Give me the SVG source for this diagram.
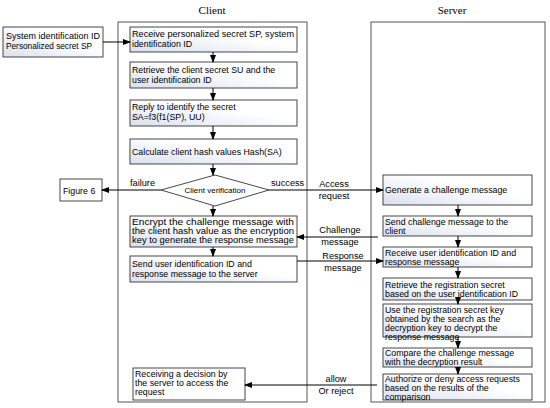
<svg xmlns="http://www.w3.org/2000/svg" width="550" height="408" viewBox="0 0 550 408">
<style>
.c{fill:none;stroke:#555;stroke-width:1}
.b{fill:url(#g);stroke:#333;stroke-width:0.9}
.t{font-family:"Liberation Sans",Arial,sans-serif;font-size:8.8px;fill:#000}
.h{font-family:"Liberation Serif","Times New Roman",serif;font-size:11px;fill:#000}
.l{font-family:"Liberation Sans",Arial,sans-serif;font-size:9.2px;fill:#000}
.a{stroke:#000;stroke-width:1;fill:none;marker-end:url(#m)}
</style>
<defs>
<linearGradient id="g" x1="0" y1="1" x2="1" y2="0">
<stop offset="0" stop-color="#d9e0ee"/>
<stop offset="0.6" stop-color="#ffffff"/>
</linearGradient>
<marker id="m" markerWidth="8" markerHeight="6" refX="7" refY="3" orient="auto" markerUnits="userSpaceOnUse">
<path d="M0,0 L8,3 L0,6 z" fill="#000"/>
</marker>
</defs>
<rect width="550" height="408" fill="#fff"/>
<g id="client-lane">
<text class="h" x="212" y="14" text-anchor="middle">Client</text>
<rect class="c" x="118" y="22" width="189" height="380"/>
</g>
<g id="server-lane">
<text class="h" x="452" y="14" text-anchor="middle">Server</text>
<rect class="c" x="371" y="22" width="174" height="380"/>
</g>
<g id="input"><rect class="b" x="3" y="27" width="100" height="30"/>
<text class="t" x="6" y="39" textLength="94" lengthAdjust="spacingAndGlyphs">System identification ID</text><text class="t" x="6" y="49" textLength="86" lengthAdjust="spacingAndGlyphs">Personalized secret SP</text></g>
<g id="c1"><rect class="b" x="130" y="27" width="167" height="25"/>
<text class="t" x="132" y="37" textLength="162" lengthAdjust="spacingAndGlyphs">Receive personalized secret SP, system</text><text class="t" x="132" y="47">identification ID</text></g>
<g id="c2"><rect class="b" x="130" y="62" width="167" height="26"/>
<text class="t" x="132" y="73">Retrieve the client secret SU and the</text><text class="t" x="132" y="83">user identification ID</text></g>
<g id="c3"><rect class="b" x="130" y="100" width="167" height="26"/>
<text class="t" x="132" y="110">Reply to identify the secret</text><text class="t" x="132" y="120">SA=f3(f1(SP), UU)</text></g>
<g id="c4"><rect class="b" x="130" y="139" width="167" height="25"/>
<text class="t" x="132" y="155">Calculate client hash values Hash(SA)</text></g>
<g id="diamond"><path class="b" d="M215,175 L269,190 L215,206 L161,190 Z" style="fill:#fff"/>
<text class="t" x="215" y="193" text-anchor="middle" style="font-size:8px">Client verification</text></g>
<g id="fig6"><rect class="b" x="60" y="179" width="42" height="22" style="fill:#fff"/>
<text class="t" x="63" y="194">Figure 6</text></g>
<g id="c5"><rect class="b" x="130" y="216" width="167" height="31"/>
<text class="t" x="132" y="225" textLength="162" lengthAdjust="spacingAndGlyphs">Encrypt the challenge message with</text><text class="t" x="132" y="234" textLength="162" lengthAdjust="spacingAndGlyphs">the client hash value as the encryption</text><text class="t" x="132" y="243" textLength="162" lengthAdjust="spacingAndGlyphs">key to generate the response message</text></g>
<g id="c6"><rect class="b" x="130" y="256" width="167" height="26"/>
<text class="t" x="132" y="267">Send user identification ID and</text><text class="t" x="132" y="277">response message to the server</text></g>
<g id="c7"><rect class="b" x="133" y="368" width="112" height="32" style="fill:#fff"/>
<text class="t" x="135" y="377">Receiving a decision by</text><text class="t" x="135" y="386">the server to access the</text><text class="t" x="135" y="395">request</text></g>
<g id="s1"><rect class="b" x="383" y="175" width="149" height="30"/>
<text class="t" x="385" y="193">Generate a challenge message</text></g>
<g id="s2"><rect class="b" x="383" y="216" width="149" height="20"/>
<text class="t" x="385" y="225">Send challenge message to the</text><text class="t" x="385" y="234">client</text></g>
<g id="s3"><rect class="b" x="383" y="247" width="149" height="20"/>
<text class="t" x="385" y="256">Receive user identification ID and</text><text class="t" x="385" y="265">response message</text></g>
<g id="s4"><rect class="b" x="383" y="278" width="149" height="22"/>
<text class="t" x="385" y="288">Retrieve the registration secret</text><text class="t" x="385" y="297">based on the user identification ID</text></g>
<g id="s5"><rect class="b" x="383" y="304" width="149" height="33"/>
<text class="t" x="385" y="313">Use the registration secret key</text><text class="t" x="385" y="322">obtained by the search as the</text><text class="t" x="385" y="331">decryption key to decrypt the</text><text class="t" x="385" y="340">response message</text></g>
<g id="s6"><rect class="b" x="383" y="348" width="149" height="19"/>
<text class="t" x="385" y="356">Compare the challenge message</text><text class="t" x="385" y="365">with the decryption result</text></g>
<g id="s7"><rect class="b" x="383" y="374" width="149" height="26"/>
<text class="t" x="385" y="382">Authorize or deny access requests</text><text class="t" x="385" y="391">based on the results of the</text><text class="t" x="385" y="400">comparison</text></g>
<g id="connectors">
<line class="a" x1="103" y1="42" x2="130" y2="42"/>
<line class="a" x1="213" y1="52" x2="213" y2="62"/>
<line class="a" x1="213" y1="88" x2="213" y2="100"/>
<line class="a" x1="213" y1="126" x2="213" y2="139"/>
<line class="a" x1="213" y1="164" x2="213" y2="175"/>
<line class="a" x1="213" y1="206" x2="213" y2="216"/>
<line class="a" x1="213" y1="247" x2="213" y2="256"/>
<line class="a" x1="161" y1="190" x2="102" y2="190"/>
<line class="a" x1="269" y1="190" x2="383" y2="190"/>
<line class="a" x1="378" y1="237" x2="297" y2="237"/>
<line class="a" x1="297" y1="261" x2="383" y2="261"/>
<line class="a" x1="377" y1="385" x2="245" y2="385"/>
<line class="a" x1="458" y1="205" x2="458" y2="216"/>
<line class="a" x1="458" y1="236" x2="458" y2="247"/>
<line class="a" x1="458" y1="267" x2="458" y2="278"/>
<line class="a" x1="458" y1="300" x2="458" y2="304"/>
<line class="a" x1="458" y1="337" x2="458" y2="348"/>
<line class="a" x1="458" y1="367" x2="458" y2="374"/>
<text class="l" x="130" y="186">failure</text>
<text class="l" x="271" y="186">success</text>
<text class="l" x="334" y="187" text-anchor="middle">Access</text>
<text class="l" x="334" y="199" text-anchor="middle">request</text>
<text class="l" x="340" y="233" text-anchor="middle">Challenge</text>
<text class="l" x="340" y="245" text-anchor="middle">message</text>
<text class="l" x="343" y="259" text-anchor="middle">Response</text>
<text class="l" x="343" y="271" text-anchor="middle">message</text>
<text class="l" x="336" y="382" text-anchor="middle">allow</text>
<text class="l" x="336" y="394" text-anchor="middle">Or reject</text>
</g>
</svg>
